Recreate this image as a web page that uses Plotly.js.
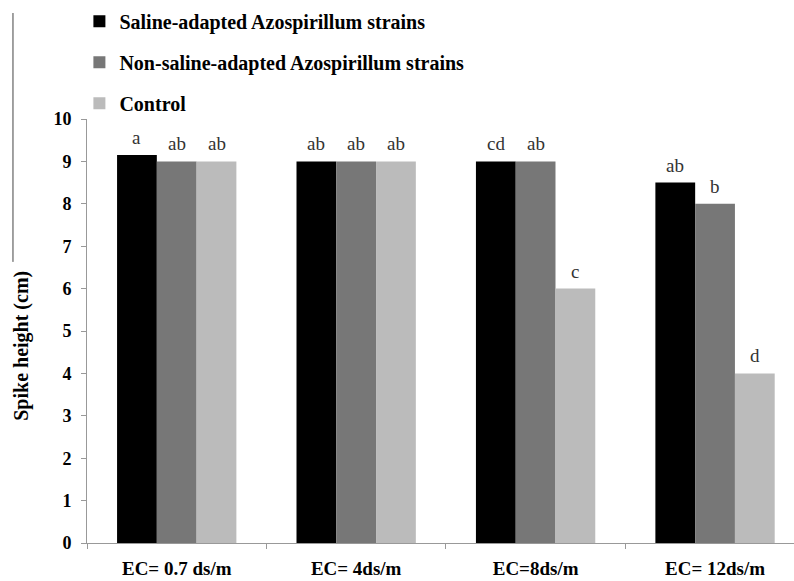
<!DOCTYPE html>
<html>
<head>
<meta charset="utf-8">
<script src="https://cdn.plot.ly/plotly-3.0.1.min.js"></script>
<style>html,body{margin:0;padding:0;background:#fff;}</style>
</head>
<body>
<div id="chart" style="width:794px;height:581px;"></div>
<script>
const categories = ["EC= 0.7 ds/m", "EC= 4ds/m", "EC=8ds/m", "EC= 12ds/m"];
const seriesNames = ["Saline-adapted Azospirillum strains", "Non-saline-adapted Azospirillum strains", "Control"];
const salineValues = [9.15, 9, 9, 8.5];
const nonSalineValues = [9, 9, 9, 8];
const controlValues = [9, 9, 6, 4];
const salineLetters = ["a", "ab", "cd", "ab"];
const nonSalineLetters = ["ab", "ab", "ab", "b"];
const controlLetters = ["ab", "ab", "c", "d"];
const colors = ["#000000", "#777777", "#bbbbbb"];

const allValues = [salineValues, nonSalineValues, controlValues];
const allLetters = [salineLetters, nonSalineLetters, controlLetters];
const bargap = 0.335;
const barW = (1 - bargap) / 3;

const serif = "Liberation Serif";

const traces = allValues.map((vals, s) => ({
  type: "bar",
  name: seriesNames[s],
  x: categories,
  y: vals,
  marker: {color: colors[s], line: {width: 0}},
  legendgroup: "g" + s,
  hoverinfo: "skip"
}));

const annotations = [];
allValues.forEach((vals, s) => {
  vals.forEach((v, i) => {
    annotations.push({
      x: i + (s - 1) * barW,
      y: v,
      xref: "x", yref: "y",
      text: allLetters[s][i],
      showarrow: false,
      xanchor: "center",
      yanchor: "bottom",
      yshift: 5,
      font: {family: serif, size: 19, color: "#333"}
    });
  });
});
annotations.push({
  x: -0.092, y: 0.465, xref: "paper", yref: "paper",
  xanchor: "center", yanchor: "middle",
  text: "<b>Spike height (cm)</b>", textangle: -90, showarrow: false,
  font: {family: serif, size: 20, color: "#000"}
});

const layout = {
  width: 794, height: 581,
  margin: {l: 87, r: 0, t: 119, b: 38, autoexpand: false},
  paper_bgcolor: "#fff", plot_bgcolor: "#fff",
  barmode: "group", bargap: bargap, bargroupgap: 0,
  showlegend: true,
  legend: {
    x: 0.1, xref: "container", y: 0.997, yref: "container",
    xanchor: "left", yanchor: "top",
    traceorder: "grouped", tracegroupgap: 12,
    font: {family: serif, size: 20, color: "#000", weight: "bold"},
    bgcolor: "rgba(0,0,0,0)", itemclick: false
  },
  xaxis: {
    type: "category", range: [-0.5, 3.44], automargin: false,
    showline: true, linecolor: "#999", linewidth: 1,
    ticks: "outside", tickson: "boundaries", ticklen: 5, tickcolor: "#999",
    showgrid: false, zeroline: false,
    tickfont: {family: serif, size: 19, color: "#000", weight: "bold"},
    ticklabelstandoff: 8
  },
  yaxis: {
    range: [0, 10], dtick: 1, tick0: 0, automargin: false,
    showline: true, linecolor: "#999", linewidth: 1,
    ticks: "outside", ticklen: 5, tickcolor: "#999",
    showgrid: false, zeroline: false,
    tickfont: {family: serif, size: 18, color: "#000", weight: "bold"},
    ticklabelstandoff: 6
  },
  shapes: [{
    type: "line", xref: "paper", yref: "paper",
    x0: -0.1047, x1: -0.1047, y0: 1.25, y1: 0.663,
    line: {color: "#444", width: 1}
  }],
  annotations: annotations
};

Plotly.newPlot("chart", traces, layout, {staticPlot: true, displayModeBar: false});
</script>
</body>
</html>
